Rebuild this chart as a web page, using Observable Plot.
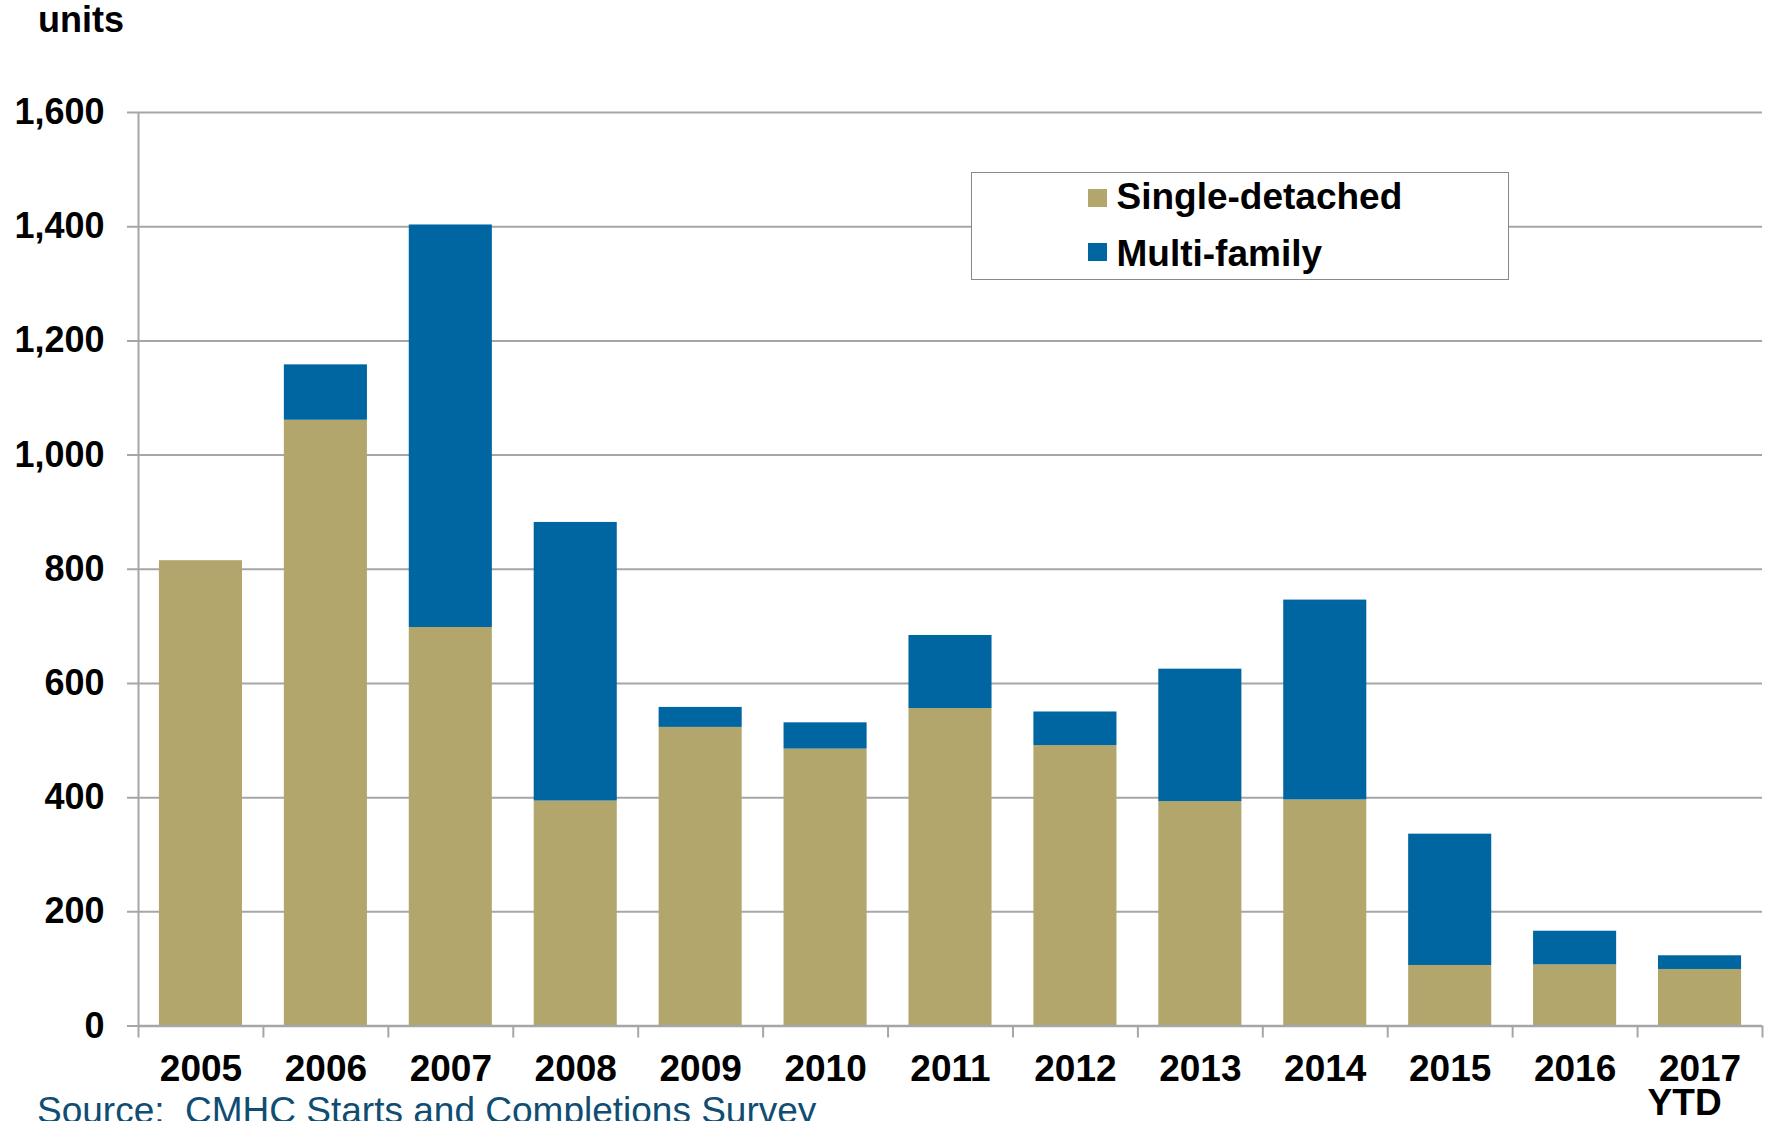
<!DOCTYPE html>
<html><head><meta charset="utf-8">
<script src="https://cdn.jsdelivr.net/npm/d3@7"></script>
<script src="https://cdn.jsdelivr.net/npm/@observablehq/plot@0.6"></script>
<style>
body{margin:0;background:#fff;font-family:Arial,"Liberation Sans",sans-serif;}
#wrap{position:relative;width:1767px;height:1121px;overflow:hidden;background:#fff;}
#chart{position:absolute;left:0;top:0;}
#units{position:absolute;left:38px;top:2px;font-size:36px;line-height:36px;font-weight:bold;color:#000;}
#source{position:absolute;left:37px;top:1092px;font-size:37px;line-height:37px;color:#0f4d73;white-space:pre;}
#legend{position:absolute;left:971px;top:172px;width:538px;height:108px;box-sizing:border-box;border:1.5px solid #8a8a8a;background:#fff;}
.sw{position:absolute;width:18.5px;height:18.5px;}
.lt{position:absolute;font-size:37px;line-height:37px;font-weight:bold;color:#000;white-space:nowrap;}
</style></head><body>
<div id="wrap">
<div id="chart"></div>
<div id="units">units</div>
<div id="legend">
  <div class="sw" id="sw0" style="left:116px;top:15.5px;"></div>
  <div class="lt" id="lt0" style="left:144.5px;top:5px;"></div>
  <div class="sw" id="sw1" style="left:116px;top:69.5px;"></div>
  <div class="lt" id="lt1" style="left:144.5px;top:61.7px;"></div>
</div>
<div id="source">Source:  CMHC Starts and Completions Survey</div>
</div>
<script>
const years = ["2005","2006","2007","2008","2009","2010","2011","2012","2013","2014","2015","2016","2017"];
const yearLabels = ["2005","2006","2007","2008","2009","2010","2011","2012","2013","2014","2015","2016","2017\nYTD\u00a0\u00a0\u00a0"];
const singleDetached = [815, 1061, 698, 394, 523, 485, 556, 491, 393, 396, 106, 107, 99];
const multiFamily = [0, 97, 705, 488, 35, 46, 128, 59, 232, 350, 230, 59, 24];
const seriesNames = ["Single-detached", "Multi-family"];
const seriesColors = ["#B3A66C", "#0066A2"];
const yTicks = [0, 200, 400, 600, 800, 1000, 1200, 1400, 1600];

const W = 1767, H = 1121, ML = 138, MR = 5, MT = 112, MB = 95.5;
const step = (W - ML - MR) / years.length;
const gridColor = "#a6a6a6";

const data = years.flatMap((y, i) => [
  {year: y, series: seriesNames[0], value: singleDetached[i]},
  {year: y, series: seriesNames[1], value: multiFamily[i]}
]);

const chart = Plot.plot({
  width: W, height: H,
  marginLeft: ML, marginRight: MR, marginTop: MT, marginBottom: MB,
  style: {fontFamily: 'Arial, "Liberation Sans", sans-serif', background: "white", overflow: "visible"},
  x: {type: "band", domain: years, paddingInner: 0.335, paddingOuter: 0.1675, round: false, axis: null, label: null},
  y: {domain: [0, 1600], axis: null, label: null},
  color: {domain: seriesNames, range: seriesColors},
  marks: [
    Plot.ruleY(yTicks, {stroke: gridColor, strokeWidth: 2, insetLeft: -11}),
    Plot.barY(data, {x: "year", y: "value", fill: "series"}),
    Plot.ruleY([0], {stroke: gridColor, strokeWidth: 2.5}),
    Plot.ruleX(years, {x: d => d, y1: 0, y2: 0, dx: -step / 2, insetBottom: -12, stroke: gridColor, strokeWidth: 2}),
    Plot.ruleX([years[years.length - 1]], {x: d => d, y1: 0, y2: 0, dx: step / 2, insetBottom: -12, stroke: gridColor, strokeWidth: 2}),
    Plot.ruleX([years[0]], {x: d => d, y1: 0, y2: 1600, dx: -step / 2, stroke: gridColor, strokeWidth: 2}),
    Plot.axisY(yTicks, {tickSize: 0, tickPadding: 34, tickFormat: d3.format(","), fontSize: 36, fontWeight: "bold", fill: "black", label: null}),
    Plot.axisX(years, {tickSize: 0, tickPadding: 31, tickFormat: d => yearLabels[years.indexOf(d)], fontSize: 37, fontWeight: "bold", lineHeight: 0.91, fill: "black", label: null})
  ]
});
document.getElementById("chart").appendChild(chart);

seriesNames.forEach((n, i) => {
  document.getElementById("sw" + i).style.background = seriesColors[i];
  document.getElementById("lt" + i).textContent = n;
});
</script>
</body></html>
